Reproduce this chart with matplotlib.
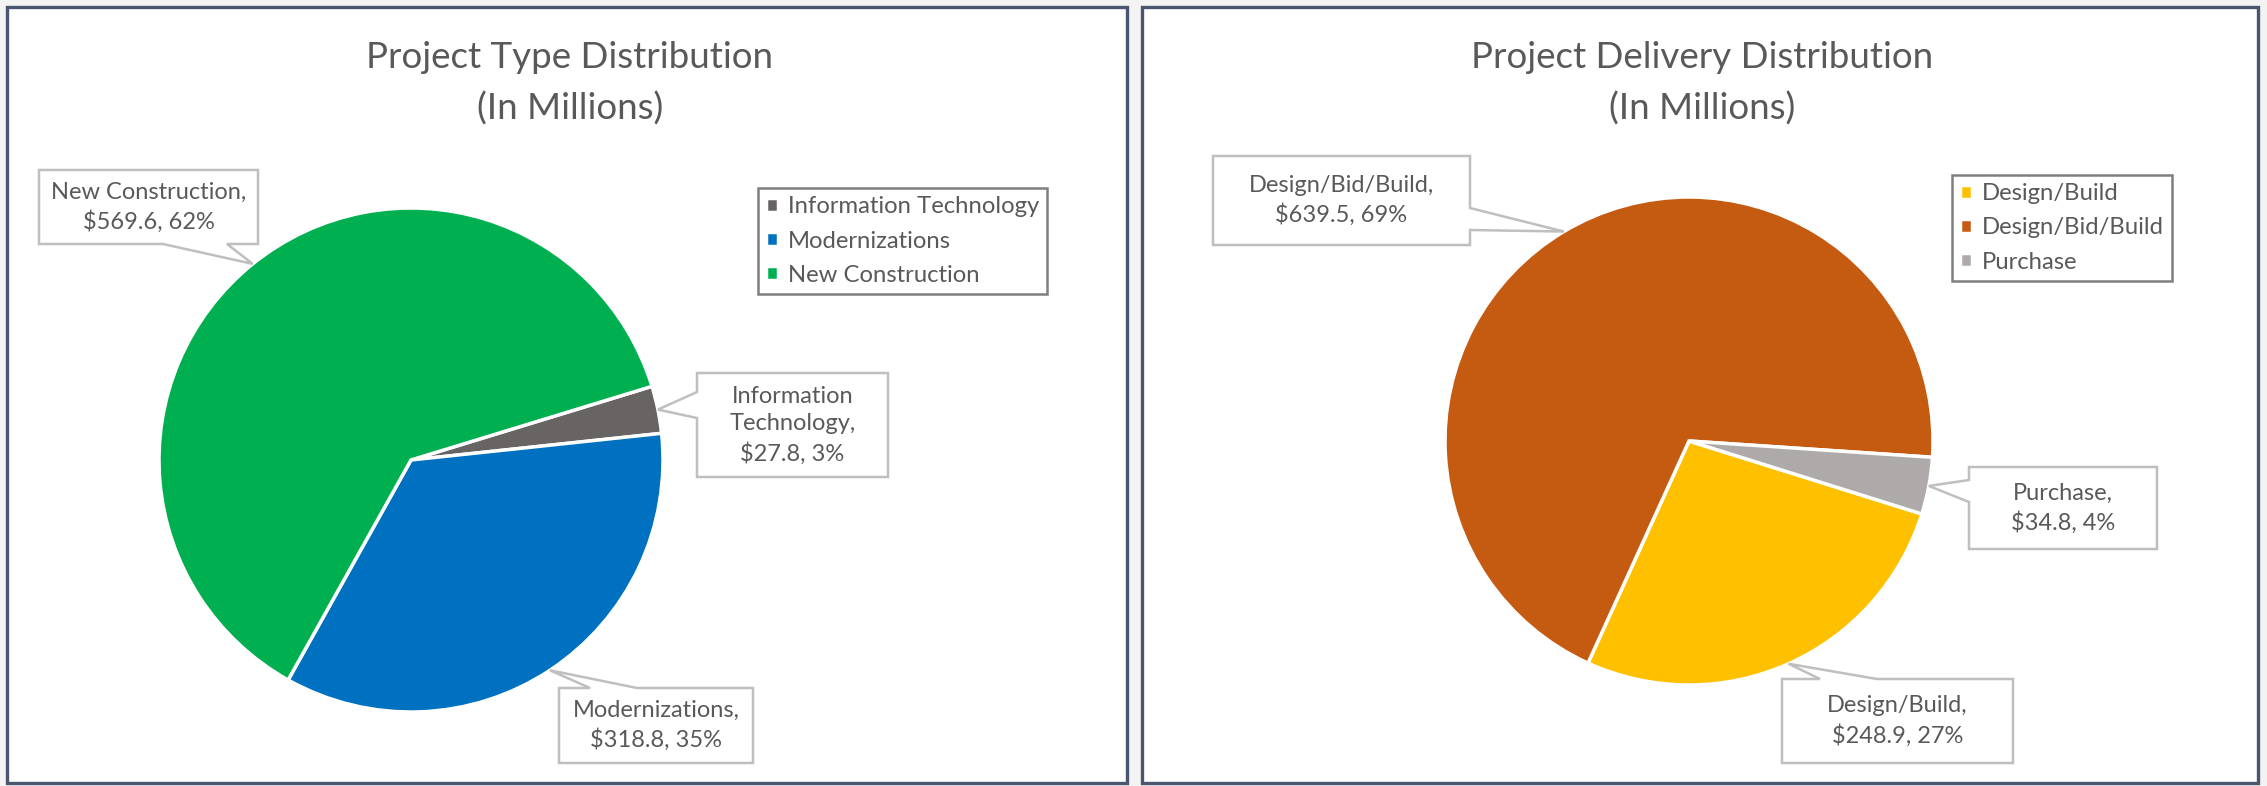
import numpy as np
import matplotlib
matplotlib.use('Agg')
import matplotlib.pyplot as plt
from matplotlib.patches import Rectangle, Polygon

plt.rcParams['font.family'] = ['Lato', 'DejaVu Sans']

# ---- data (in millions) ----
type_names = ['Information Technology', 'Modernizations', 'New Construction']
type_labels = ['Information\nTechnology', 'Modernizations', 'New Construction']
type_values = [27.8, 318.8, 569.6]
type_colors = ['#686464', '#0070c0', '#00b050']

delivery_names = ['Design/Build', 'Design/Bid/Build', 'Purchase']
delivery_labels = ['Design/Build', 'Design/Bid/Build', 'Purchase']
delivery_values = [248.9, 639.5, 34.8]
delivery_colors = ['#ffc000', '#c55a11', '#aeaaaa']

W, H = 2267, 786
TXT = '#595959'

fig = plt.figure(figsize=(W / 100, H / 100), dpi=100)
fig.patch.set_facecolor('#f3f3f3')


def px_axes(x0, y0, w, h, z):
    # axes placed in pixel coords, origin top-left
    return fig.add_axes([x0 / W, 1 - (y0 + h) / H, w / W, h / H], zorder=z)


bg = px_axes(0, 0, W, H, 0)
bg.set_xlim(0, W); bg.set_ylim(H, 0); bg.axis('off')
top = px_axes(0, 0, W, H, 3)
top.set_xlim(0, W); top.set_ylim(H, 0); top.axis('off')

# chart panels
for x0, x1 in [(7, 1127), (1142, 2258)]:
    bg.add_patch(Rectangle((x0, 7), x1 - x0, 776, facecolor='white',
                           edgecolor='#4a5670', lw=2.4))


def draw_pie(cx, cy, r, values, colors, start):
    pad = 1.05
    ax = px_axes(cx - r * pad, cy - r * pad, 2 * r * pad, 2 * r * pad, 1)
    wedges, _ = ax.pie(values, colors=colors, startangle=start, counterclock=False,
                       wedgeprops=dict(edgecolor='white', linewidth=2.5))
    ax.set_xlim(-pad, pad); ax.set_ylim(-pad, pad)
    ax.axis('off')
    return ax, wedges


def callout(box, side, base, tip, text, fs=17):
    x0, y0, x1, y1 = box
    b0, b1 = base
    tx, ty = tip
    if side == 'left':
        pts = [(x0, y0), (x1, y0), (x1, y1), (x0, y1), (x0, b1), (tx, ty), (x0, b0)]
    elif side == 'right':
        pts = [(x0, y0), (x1, y0), (x1, b0), (tx, ty), (x1, b1), (x1, y1), (x0, y1)]
    elif side == 'top':
        pts = [(x0, y0), (b0, y0), (tx, ty), (b1, y0), (x1, y0), (x1, y1), (x0, y1)]
    else:
        pts = [(x0, y0), (x1, y0), (x1, y1), (b1, y1), (tx, ty), (b0, y1), (x0, y1)]
    top.add_patch(Polygon(pts, closed=True, facecolor='white', edgecolor='#bfbfbf', lw=1.8))
    top.text((x0 + x1) / 2, (y0 + y1) / 2, text, ha='center', va='center',
             fontsize=fs, color=TXT, linespacing=1.4)


def panel(cx, cy, r, start, title_x, title, names, labels, values, colors, boxes, leg_xy):
    ax, wedges = draw_pie(cx, cy, r, values, colors, start)
    total = sum(values)
    for w, lab, v, (box, side, base) in zip(wedges, labels, values, boxes):
        a = np.deg2rad((w.theta1 + w.theta2) / 2)
        tip = (cx + r * np.cos(a), cy - r * np.sin(a))
        txt = '%s,\n$%.1f, %.0f%%' % (lab, v, v / total * 100)
        callout(box, side, base, tip, txt)
    top.text(title_x, 83, title + '\n(In Millions)', ha='center', va='center',
             fontsize=26.5, color=TXT, linespacing=1.62)
    leg = ax.legend(wedges, names, loc='upper left', bbox_to_anchor=leg_xy,
                    bbox_transform=top.transData, frameon=True, fancybox=False,
                    edgecolor='#7f7f7f', framealpha=1, fontsize=17.2, labelcolor=TXT,
                    borderpad=0.35, handlelength=0.5, handleheight=0.5,
                    handletextpad=0.4, labelspacing=0.55, borderaxespad=0)
    leg.get_frame().set_linewidth(1.8)


# left: project type
panel(411, 460, 252, 17, 570, 'Project Type Distribution',
      type_names, type_labels, type_values, type_colors,
      [((697, 373, 888, 477), 'left', (392, 418)),
       ((559, 688, 753, 763), 'top', (590, 637)),
       ((39, 170, 258, 244), 'bottom', (163, 227))],
      (758, 188))

# right: project delivery
panel(1689, 441, 244, -17.4, 1702, 'Project Delivery Distribution',
      delivery_names, delivery_labels, delivery_values, delivery_colors,
      [((1782, 679, 2013, 763), 'top', (1820, 1877)),
       ((1213, 156, 1470, 245), 'right', (208, 230)),
       ((1969, 467, 2157, 549), 'left', (480, 502))],
      (1952, 175))

fig.savefig('out.png', dpi=100, facecolor=fig.get_facecolor())
